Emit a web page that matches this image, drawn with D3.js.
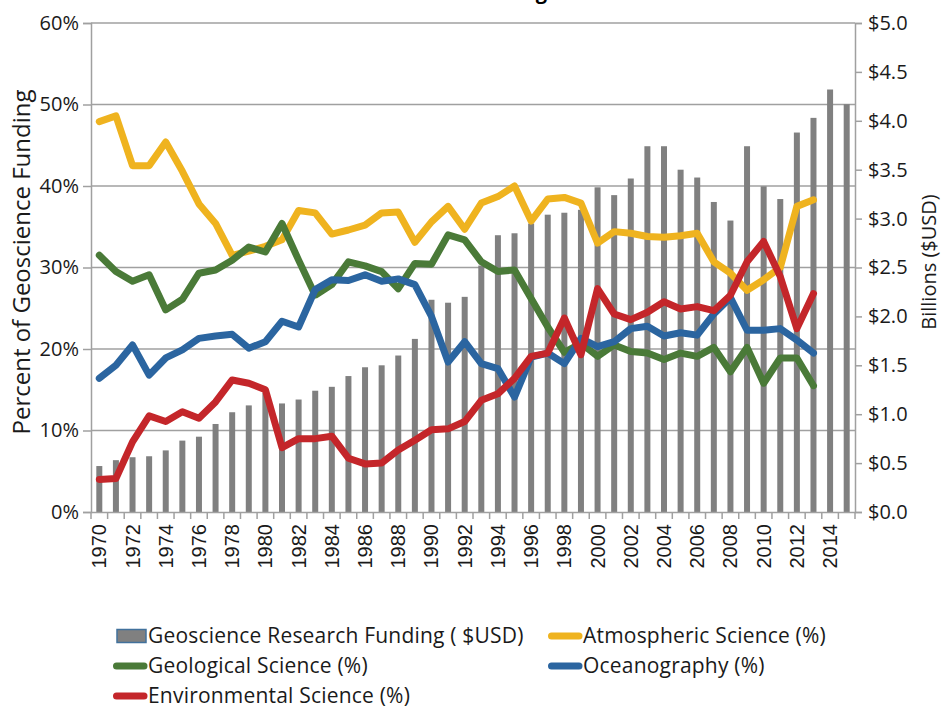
<!DOCTYPE html>
<html>
<head>
<meta charset="utf-8">
<script src="https://cdn.jsdelivr.net/npm/d3@7"></script>
<style>
  body { margin: 0; background: #fff; }
  svg { display: block; }
</style>
</head>
<body>
<div id="chart"></div>
<script>
// data
const years = d3.range(1970, 2016);
const funding = [0.47, 0.53, 0.56, 0.57, 0.63, 0.73, 0.77, 0.90, 1.02, 1.09,
  1.22, 1.11, 1.15, 1.24, 1.28, 1.39, 1.48, 1.50, 1.60, 1.77,
  2.17, 2.14, 2.20, 2.52, 2.83, 2.85, 2.95, 3.04, 3.06, 3.09,
  3.32, 3.24, 3.41, 3.74, 3.74, 3.50, 3.42, 3.17, 2.98, 3.74,
  3.33, 3.20, 3.88, 4.03, 4.32, 4.17];
const atmospheric = [47.9, 48.6, 42.5, 42.5, 45.4, 41.8, 37.8, 35.4, 31.5, 32.0,
  32.6, 33.4, 37.0, 36.7, 34.1, 34.6, 35.2, 36.7, 36.8, 33.1,
  35.6, 37.5, 34.7, 37.9, 38.7, 40.0, 35.7, 38.4, 38.6, 37.9,
  33.0, 34.4, 34.2, 33.8, 33.7, 33.9, 34.2, 30.7, 29.3, 27.2,
  28.5, 30.0, 37.5, 38.3];
const geological = [31.5, 29.5, 28.3, 29.1, 24.8, 26.1, 29.3, 29.7, 30.9, 32.5,
  31.9, 35.4, 30.9, 26.6, 27.9, 30.7, 30.2, 29.5, 27.4, 30.5,
  30.4, 34.0, 33.4, 30.7, 29.5, 29.7, 26.2, 22.7, 19.6, 20.7,
  19.1, 20.5, 19.7, 19.5, 18.7, 19.5, 19.1, 20.2, 17.2, 20.2,
  15.8, 18.9, 18.9, 15.5];
const oceanography = [16.4, 18.0, 20.5, 16.8, 18.9, 19.9, 21.3, 21.6, 21.8, 20.1,
  20.9, 23.4, 22.7, 27.3, 28.5, 28.4, 29.1, 28.3, 28.6, 27.9,
  24.0, 18.4, 20.9, 18.2, 17.6, 14.1, 19.0, 19.5, 18.2, 21.3,
  20.3, 20.9, 22.5, 22.8, 21.6, 22.0, 21.7, 24.3, 26.3, 22.3,
  22.3, 22.5, 21.1, 19.5];
const environmental = [4.0, 4.1, 8.6, 11.8, 11.1, 12.3, 11.5, 13.5, 16.2, 15.8,
  15.0, 7.9, 9.0, 9.0, 9.3, 6.6, 5.9, 6.0, 7.6, 8.8,
  10.1, 10.2, 11.1, 13.7, 14.5, 16.4, 19.1, 19.5, 23.8, 19.3,
  27.4, 24.3, 23.6, 24.5, 25.8, 24.9, 25.2, 24.7, 26.6, 30.7,
  33.2, 28.9, 22.5, 26.8];
const pctTicks = [0, 10, 20, 30, 40, 50, 60];
const usdTicks = [0, 0.5, 1, 1.5, 2, 2.5, 3, 3.5, 4, 4.5, 5];

const series = [
  {name: "Atmospheric Science (%)", values: atmospheric, color: "#efb31f"},
  {name: "Geological Science (%)", values: geological, color: "#4a7a38"},
  {name: "Oceanography (%)", values: oceanography, color: "#2b65a0"},
  {name: "Environmental Science (%)", values: environmental, color: "#c4262a"}
];

const W = 942, H = 709;
const plotL = 91, plotR = 855, plotT = 23, plotB = 512;
const gridColor = "#a0a0a0";
const font = "'Open Sans', sans-serif";

const svg = d3.select("#chart").append("svg")
  .attr("width", W).attr("height", H)
  .style("font-family", font);

const x = d3.scaleBand().domain(years).range([plotL, plotR]).padding(0);
const yL = d3.scaleLinear().domain([0, 60]).range([plotB, plotT]);
const yR = d3.scaleLinear().domain([0, 5]).range([plotB, plotT]);

// title, mostly clipped off the top of the picture
svg.append("text")
  .attr("x", 547).attr("y", -1)
  .attr("text-anchor", "end")
  .style("font-size", "20px").style("font-weight", "bold")
  .text("Geoscience Research Funding");

// gridlines
svg.append("g").selectAll("line")
  .data(pctTicks.slice(1))
  .join("line")
  .attr("x1", plotL).attr("x2", plotR)
  .attr("y1", d => yL(d)).attr("y2", d => yL(d))
  .attr("stroke", gridColor).attr("stroke-width", 1.5);

// bars
svg.append("g").selectAll("rect")
  .data(funding)
  .join("rect")
  .attr("x", (d, i) => x(years[i]) + x.bandwidth() / 2 - 3)
  .attr("width", 6)
  .attr("y", d => yR(d))
  .attr("height", d => yR(0) - yR(d))
  .attr("fill", "#808080");

// lines
const line = d3.line()
  .x((d, i) => x(years[i]) + x.bandwidth() / 2)
  .y(d => yL(d));

svg.append("g").selectAll("path")
  .data(series)
  .join("path")
  .attr("d", d => line(d.values))
  .attr("fill", "none")
  .attr("stroke", d => d.color)
  .attr("stroke-width", 7)
  .attr("stroke-linejoin", "round")
  .attr("stroke-linecap", "round");

// left axis
const axL = svg.append("g")
  .attr("transform", `translate(${plotL},0)`)
  .call(d3.axisLeft(yL).tickValues(pctTicks).tickFormat(d => d + "%").tickSize(8).tickPadding(4));
// right axis
const axR = svg.append("g")
  .attr("transform", `translate(${plotR},0)`)
  .call(d3.axisRight(yR).tickValues(usdTicks).tickFormat(d => "$" + d.toFixed(1)).tickSize(7).tickPadding(6));
// bottom axis
const axB = svg.append("g")
  .attr("transform", `translate(0,${plotB})`)
  .call(d3.axisBottom(x).tickSize(0).tickFormat(d => d % 2 === 0 ? d : ""));

[axL, axR, axB].forEach(a => {
  a.select(".domain").attr("stroke", gridColor).attr("stroke-width", 1.5);
  a.selectAll(".tick line").attr("stroke", gridColor).attr("stroke-width", 1.5);
  a.selectAll("text").attr("fill", "#1a1a1a").style("font-family", font).style("font-size", "20px");
});

// category boundary ticks on the bottom axis
axB.append("g").selectAll("line")
  .data(years.concat([null]))
  .join("line")
  .attr("x1", (d, i) => plotL + i * x.step())
  .attr("x2", (d, i) => plotL + i * x.step())
  .attr("y1", 0).attr("y2", 7)
  .attr("stroke", gridColor).attr("stroke-width", 1.5);

axB.selectAll(".tick text")
  .attr("transform", "rotate(-90)")
  .attr("text-anchor", "end")
  .attr("x", -12).attr("y", 0).attr("dy", "0.35em")
  .style("font-family", "'Liberation Sans', Arial, sans-serif")
  .style("font-size", "20px");

// axis titles
svg.append("text")
  .attr("transform", `translate(30,262) rotate(-90)`)
  .attr("text-anchor", "middle")
  .style("font-size", "24px").attr("fill", "#1a1a1a")
  .text("Percent of Geoscience Funding");
svg.append("text")
  .attr("transform", `translate(936,262) rotate(-90)`)
  .attr("text-anchor", "middle")
  .style("font-size", "20px").attr("fill", "#1a1a1a")
  .text("Billions ($USD)");

// legend
const legend = [
  {name: "Geoscience Research Funding ( $USD)", bar: true, col: 0, row: 0},
  {name: series[0].name, color: series[0].color, col: 1, row: 0},
  {name: series[1].name, color: series[1].color, col: 0, row: 1},
  {name: series[2].name, color: series[2].color, col: 1, row: 1},
  {name: series[3].name, color: series[3].color, col: 0, row: 2}
];
const lg = svg.append("g").selectAll("g")
  .data(legend)
  .join("g")
  .attr("transform", d => `translate(${d.col ? 548 : 113},${636 + d.row * 30})`);
lg.filter(d => d.bar).append("rect")
  .attr("x", 4).attr("y", -6.5).attr("width", 29).attr("height", 13)
  .attr("fill", "#808080").attr("stroke", "#41719c").attr("stroke-width", 1.5);
lg.filter(d => !d.bar).append("line")
  .attr("x1", 3.5).attr("x2", 31).attr("y1", 0).attr("y2", 0)
  .attr("stroke", d => d.color).attr("stroke-width", 7).attr("stroke-linecap", "round");
lg.append("text")
  .attr("x", 35).attr("y", 0).attr("dy", "0.35em")
  .style("font-size", "21px").style("letter-spacing", "0.2px")
  .attr("fill", "#1a1a1a")
  .text(d => d.name);
</script>
</body>
</html>
